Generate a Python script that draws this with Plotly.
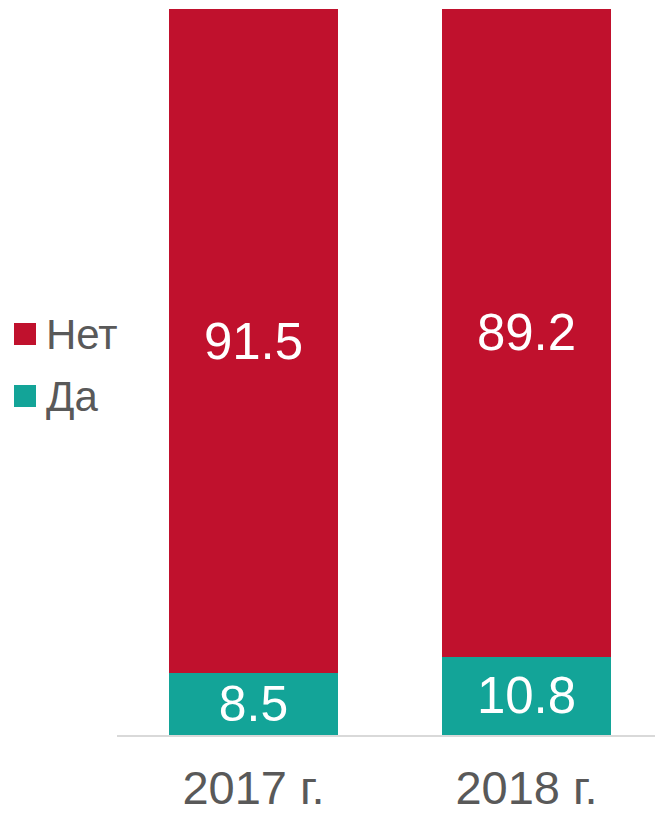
import plotly.graph_objects as go

categories = ["2017 г.", "2018 г."]
series_da = [8.5, 10.8]
series_net = [91.5, 89.2]
names = ["Да", "Нет"]
colors = {"Да": "#13A498", "Нет": "#C0112D"}

# page has an 8px body margin; figure sized to fit the 663x813 window
OFF = 8
W, H = 663 - OFF, 813 - OFF
L, R, T = 117 - OFF, 0, 9 - OFF
plot_h = 726
B = H - T - plot_h
plot_w = W - L - R

def px_x(px):
    return (px - OFF - L) / plot_w

def px_y(py):
    return (T + plot_h - (py - OFF)) / plot_h

fig = go.Figure()
for name, vals in [("Да", series_da), ("Нет", series_net)]:
    fig.add_trace(go.Bar(
        x=categories, y=vals, name=name,
        marker=dict(color=colors[name], line=dict(width=0)),
        text=[f"{v:.1f}" for v in vals],
        textposition="inside", insidetextanchor="middle",
        textfont=dict(family="Arial, Liberation Sans", size=51, color="white"),
        width=0.62,
    ))

# custom legend
legend_items = [("Нет", 334), ("Да", 396)]
for name, cy in legend_items:
    fig.add_shape(type="rect", xref="paper", yref="paper",
                  x0=px_x(14), x1=px_x(36), y0=px_y(cy + 11), y1=px_y(cy - 11),
                  fillcolor=colors[name], line=dict(width=0))
    fig.add_annotation(xref="paper", yref="paper", x=px_x(44), y=px_y(cy),
                       text=name, showarrow=False, xanchor="left", yanchor="middle",
                       font=dict(family="Arial, Liberation Sans", size=42, color="#595959"))

fig.update_layout(
    barmode="stack",
    width=W, height=H,
    margin=dict(l=L, r=R, t=T, b=B),
    paper_bgcolor="white", plot_bgcolor="white",
    showlegend=False,
    uniformtext=dict(mode=False),
    xaxis=dict(showline=True, linecolor="#D9D9D9", linewidth=2, ticks="",
               automargin=False, ticklabelstandoff=11,
               tickfont=dict(family="Arial, Liberation Sans", size=47, color="#595959")),
    yaxis=dict(range=[0, 100], visible=False, showgrid=False, automargin=False),
)
fig.write_html("out.html")
